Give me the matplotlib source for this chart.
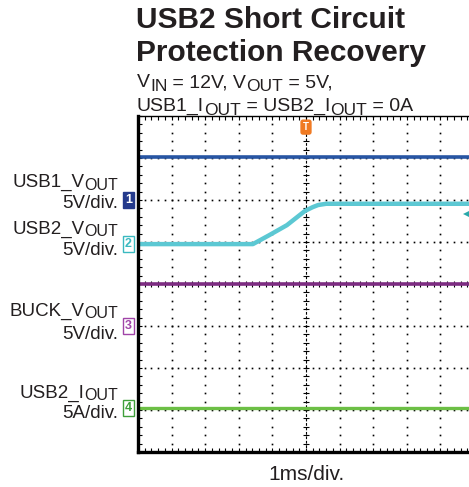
import numpy as np
import matplotlib
matplotlib.use("Agg")
import matplotlib.pyplot as plt
from matplotlib.ticker import MultipleLocator

plt.rcParams['font.family'] = ['Liberation Sans', 'DejaVu Sans']

# traces, in screen divisions (1 ms/div horizontally, center = 0 vertically)
usb1_t = [0, 10]
usb1_y = [3.02, 3.02]
usb2_t = [0, 3.42, 3.9, 4.43, 4.97, 5.2, 5.36, 5.6, 10]
usb2_y = [0.95, 0.95, 1.16, 1.40, 1.74, 1.83, 1.88, 1.91, 1.91]
buck_t = [0, 10]
buck_y = [0.0, 0.0]
iout_t = [0, 10]
iout_y = [-2.95, -2.95]

# channel ground markers
marker_labels = ['1', '2', '3', '4']
marker_levels = [2.0, 0.95, -1.0, -2.95]

# left side labels: (main, subscript)
ch_names = [('USB1_V', 'OUT'), ('USB2_V', 'OUT'), ('BUCK_V', 'OUT'), ('USB2_I', 'OUT')]
ch_scales = ['5V/div.', '5V/div.', '5V/div.', '5A/div.']
name_px = [187, 234, 316, 398]
scale_px = [208, 255, 339, 418]

W, H = 469, 487
fig = plt.figure(figsize=(W / 100, H / 100), dpi=100)
renderer = fig.canvas.get_renderer()
TXT = '#231f20'


def rich(x_px, y_px, pieces, ha='left', **kw):
    """pieces: list of (text, fontsize, drop_px); drawn one after another on a baseline."""
    arts = []
    for s, fs, dy in pieces:
        t = fig.text(0, 0, s, fontsize=fs, ha='left', va='baseline', color=TXT, **kw)
        arts.append((t, dy))
    widths = [t.get_window_extent(renderer).width for t, _ in arts]
    x = x_px - (sum(widths) if ha == 'right' else 0)
    for (t, dy), w in zip(arts, widths):
        t.set_position((x / W, 1 - (y_px + dy) / H))
        x += w


left, right, top, bottom = 138, 474, 116, 452
ax = fig.add_axes([left / W, 1 - bottom / H, (right - left) / W, (bottom - top) / H])
ax.set_xlim(0, 10)
ax.set_ylim(-4, 4)

# graticule
for gx in range(1, 10):
    if gx == 5:
        continue
    yy = np.arange(-4, 4.01, 0.2)
    ax.plot(np.full_like(yy, gx), yy, ls='none', marker='s', ms=1.2, color='black', mew=0)
for gy in range(-3, 4):
    if gy == 0:
        continue
    xx = np.arange(0, 10.01, 0.2)
    ax.plot(xx, np.full_like(xx, gy), ls='none', marker='s', ms=1.2, color='black', mew=0)

# center cross lines with ticks
ax.plot([5, 5], [-4, 4], color='black', lw=0.8, dashes=(2.5, 1.5))
ax.plot([0, 10], [0, 0], color='black', lw=0.8, dashes=(2.5, 1.5))
yy = np.arange(-4, 4.01, 0.2)
ax.plot(np.full_like(yy, 5), yy, ls='none', marker='_', ms=5, mew=0.8, color='black')
xx = np.arange(0, 10.01, 0.2)
ax.plot(xx, np.zeros_like(xx), ls='none', marker='|', ms=5, mew=0.8, color='black')

# traces
ax.plot(usb1_t, usb1_y, color='#2755a3', lw=2.6, solid_capstyle='butt')
ax.plot(usb2_t, usb2_y, color='#5cc8d3', lw=3.2, solid_capstyle='butt', solid_joinstyle='round')
ax.plot(buck_t, buck_y, color='#7d2c82', lw=2.6, solid_capstyle='butt')
ax.plot(iout_t, iout_y, color='#6cbf45', lw=2.4, solid_capstyle='butt')

# spines / ticks
ax.spines['right'].set_visible(False)
ax.spines['left'].set_linewidth(2.4)
ax.spines['bottom'].set_linewidth(2.4)
ax.spines['top'].set_linewidth(1.0)
ax.xaxis.set_major_locator(MultipleLocator(1))
ax.xaxis.set_minor_locator(MultipleLocator(0.2))
ax.yaxis.set_major_locator(MultipleLocator(1))
ax.yaxis.set_minor_locator(MultipleLocator(0.2))
ax.tick_params(which='both', direction='in', length=3, width=0.8, top=True,
               labelbottom=False, labelleft=False)

# channel markers
face = ['#243a8c', 'white', 'white', 'white']
edge = ['#243a8c', '#3ab9c0', '#a044a8', '#3f9f3a']
txtc = ['white', '#3ab9c0', '#a044a8', '#3f9f3a']
for lab, lev, fc, ec, tc in zip(marker_labels, marker_levels, face, edge, txtc):
    ax.annotate(lab, xy=(0, lev), xycoords=('axes fraction', 'data'),
                xytext=(-7, 0), textcoords='offset points', ha='center', va='center',
                fontsize=9, fontweight='bold', color=tc, annotation_clip=False,
                bbox=dict(boxstyle='square,pad=0.15', fc=fc, ec=ec, lw=1.0))

# trigger marker and level arrow
ax.annotate('T', xy=(5, 4), xytext=(0, -8), textcoords='offset points',
            ha='center', va='center', fontsize=7, color='white', fontweight='bold',
            annotation_clip=False,
            bbox=dict(boxstyle='round,pad=0.2', fc='#f07a22', ec='#f07a22'))
ax.plot([9.78], [1.67], marker='<', ms=6, color='#2aa8aa', mew=0, clip_on=False)

# titles
fig.text(136 / W, 1 - 28 / H, 'USB2 Short Circuit', fontsize=21.5, fontweight='bold',
         ha='left', va='baseline', color=TXT)
fig.text(136 / W, 1 - 61 / H, 'Protection Recovery', fontsize=21.5, fontweight='bold',
         ha='left', va='baseline', color=TXT)
rich(137, 87, [('V', 14, 0), ('IN', 12.5, 4), (' = 12V, V', 14, 0), ('OUT', 12.5, 4),
               (' = 5V,', 14, 0)])
rich(137, 111, [('USB1_I', 14, 0), ('OUT', 12.5, 4), (' = USB2_I', 14, 0), ('OUT', 12.5, 4),
                (' = 0A', 14, 0)])

for (main, sub), sc, npx, spx in zip(ch_names, ch_scales, name_px, scale_px):
    rich(118, npx, [(main, 13.5, 0), (sub, 11.5, 2.5)], ha='right')
    fig.text(118 / W, 1 - spx / H, sc, fontsize=13.5, ha='right', va='baseline', color=TXT)

fig.text(306 / W, 1 - 480 / H, '1ms/div.', fontsize=15, ha='center', va='baseline', color=TXT)

fig.savefig('out.png', dpi=100)
